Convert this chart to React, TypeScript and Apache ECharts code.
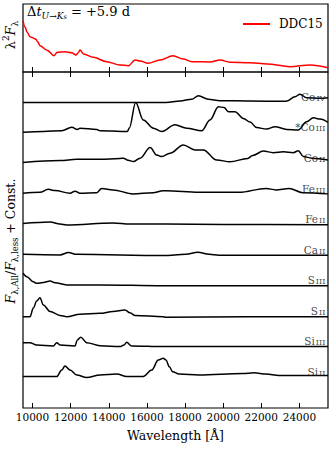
import React, { useEffect, useRef } from "react";
import * as echarts from "echarts";

const SERIF = "'DejaVu Serif', 'Liberation Serif', serif";

const xMin = 9500;
const xMax = 25500;
const xTicks = [10000, 12000, 14000, 16000, 18000, 20000, 22000, 24000];

// top panel: lambda^2 F_lambda (arbitrary units)
const ddc15: [number, number][] = [
  [9500, 0.754], [9600, 0.666], [9720, 0.584], [9870, 0.519], [9990, 0.507], [10080, 0.493],
  [10180, 0.481], [10270, 0.446], [10390, 0.387], [10740, 0.324], [11130, 0.24], [11300, 0.29],
  [11710, 0.299], [12060, 0.284], [12280, 0.25], [12400, 0.284], [12490, 0.324], [12670, 0.265],
  [13190, 0.216], [13890, 0.151], [14590, 0.103], [15030, 0.093], [15380, 0.176], [15640, 0.162],
  [16060, 0.128], [16690, 0.176], [17370, 0.24], [17900, 0.191], [18370, 0.151], [19310, 0.147],
  [19840, 0.176], [20360, 0.143], [21410, 0.137], [22300, 0.118], [23510, 0.078], [24560, 0.103],
  [25500, 0.063],
];

// bottom panel: F_all / F_less + const
const coIV: [number, number][] = [
  [9500, 10.0], [17000, 10.0], [17740, 10.05], [18350, 10.11], [18700, 10.22], [19220, 10.11],
  [19840, 10.06], [21410, 10.05], [23190, 10.04], [23340, 10.05], [23770, 10.19], [24030, 10.27],
  [24380, 10.16], [25080, 10.14], [25500, 10.16],
];
const coIII: [number, number][] = [
  [9500, 9.03], [10570, 9.05], [11530, 9.08], [12060, 9.19], [12350, 9.12], [12490, 9.16],
  [13370, 9.12], [13540, 9.08], [14850, 9.05], [14970, 9.05], [15080, 9.17], [15410, 10.0],
  [15810, 9.43], [16340, 9.16], [16780, 9.05], [17470, 9.27], [18090, 9.16], [18880, 9.08],
  [19310, 9.43], [19750, 9.86], [20050, 9.84], [20270, 9.7], [20620, 9.7], [21060, 9.48],
  [21410, 9.36], [21760, 9.18], [22280, 9.13], [22720, 9.21], [23340, 9.12], [23940, 9.1],
  [24380, 9.37], [24730, 9.5], [25080, 9.46], [25500, 9.35],
];
const coII: [number, number][] = [
  [9500, 8.04], [11440, 8.1], [12320, 8.14], [13540, 8.14], [14590, 8.17], [14760, 8.18],
  [15010, 8.11], [15290, 8.07], [15640, 8.18], [16170, 8.53], [16520, 8.28], [16780, 8.23],
  [17210, 8.34], [17910, 8.61], [18520, 8.45], [18960, 8.45], [19660, 8.12], [20360, 8.06],
  [21290, 8.17], [21550, 8.27], [22110, 8.41], [22630, 8.36], [23160, 8.39], [23680, 8.36],
  [23940, 8.42], [24210, 8.23], [24650, 8.18], [25500, 8.12],
];
const feIII: [number, number][] = [
  [9500, 7.03], [10390, 7.06], [10830, 7.16], [11180, 7.12], [11970, 7.03], [12230, 7.1],
  [12490, 7.03], [13370, 7.05], [13630, 7.19], [14220, 7.14], [15270, 7.01], [16320, 7.05],
  [16850, 7.11], [17000, 7.11], [18730, 7.06], [20830, 7.06], [22250, 7.19], [22770, 7.14],
  [23460, 7.19], [24170, 7.05], [25500, 7.01],
];
const feII: [number, number][] = [
  [9500, 6.04], [10920, 6.09], [11440, 6.02], [11790, 5.99], [14220, 6.06], [15110, 6.02],
  [17000, 6.02], [20000, 6.01], [25500, 6.0],
];
const caII: [number, number][] = [
  [9500, 5.03], [11440, 5.01], [11880, 5.09], [12320, 5.03], [16850, 4.99], [18050, 5.03],
  [18670, 5.1], [19260, 5.03], [19780, 5.0], [25500, 5.0],
];
const sIII: [number, number][] = [
  [9500, 4.41], [9700, 4.3], [10040, 4.13], [10220, 4.08], [10570, 4.11], [10920, 4.16],
  [11180, 4.1], [11790, 4.03], [13540, 4.03], [16850, 4.0], [25500, 4.0],
];
const sII: [number, number][] = [
  [9500, 2.99], [9870, 2.99], [10040, 3.27], [10220, 3.5], [10390, 3.61], [10570, 3.37],
  [10920, 3.16], [11440, 3.03], [11790, 2.99], [12490, 3.07], [13540, 3.1], [14220, 3.16],
  [14850, 3.21], [15110, 3.12], [15380, 3.03], [16850, 2.99], [17000, 2.97], [21200, 2.99],
  [25500, 2.99],
];
const siIII: [number, number][] = [
  [9500, 2.14], [9870, 2.14], [10220, 2.06], [11090, 2.03], [11270, 2.14], [11440, 2.06],
  [12230, 2.03], [12350, 2.23], [12530, 2.32], [12840, 2.14], [13540, 2.04], [14590, 2.01],
  [14800, 2.06], [14940, 2.15], [15200, 2.03], [16850, 2.01], [25500, 2.01],
];
const siII: [number, number][] = [
  [9500, 1.03], [11270, 1.03], [11530, 1.24], [11700, 1.375], [11970, 1.24], [12320, 1.08],
  [12840, 1.0], [13540, 1.08], [14420, 1.11], [14940, 1.03], [15810, 1.03], [16250, 1.24],
  [16600, 1.57], [16860, 1.63], [17000, 1.57], [17180, 1.35], [17350, 1.19], [17690, 1.11],
  [18730, 1.08], [21030, 1.13], [21620, 1.15], [22250, 1.11], [22930, 1.06], [25500, 1.06],
];

const traceNames = ["Co IV", "*Co III", "Co II", "Fe III", "Fe II", "Ca II", "S III", "S II", "Si III", "Si II"];
const traceOffsets = [10, 9, 8, 7, 6, 5, 4, 3, 2, 1];
const traces = [coIV, coIII, coII, feIII, feII, caII, sIII, sII, siIII, siII];

const labelX = 25360;
const labelLift = 0.2;

export default function App() {
  const ref = useRef<HTMLDivElement>(null);
  useEffect(() => {
    if (!ref.current) return;
    const chart = echarts.init(ref.current, null, { renderer: "svg" });

    const tickStyle = { color: "#000", width: 1 };
    const baseX = {
      type: "value",
      min: xMin,
      max: xMax,
      splitLine: { show: false },
      axisLine: { show: false },
      axisTick: { show: true, inside: true, length: 5, customValues: xTicks, lineStyle: tickStyle },
      axisLabel: { show: false },
    };

    const blackSeries = traces.map((d, i) => ({
      type: "line",
      name: traceNames[i],
      xAxisIndex: 1,
      yAxisIndex: 1,
      data: d,
      showSymbol: false,
      symbol: "none",
      smooth: 0.35,
      smoothMonotone: "x",
      lineStyle: { color: "#000", width: 1.5 },
      z: 2,
    }));

    const labelSeries = {
      type: "scatter",
      xAxisIndex: 1,
      yAxisIndex: 1,
      symbolSize: 0,
      silent: true,
      z: 5,
      data: traceNames.map((n, i) => ({ name: n, value: [labelX, traceOffsets[i] + labelLift] })),
      label: {
        show: true,
        position: "left",
        distance: 0,
        formatter: (p: any) => {
          const parts = String(p.name).split(" ");
          return `{e|${parts[0]}}{g| }{r|${parts[1]}}`;
        },
        rich: {
          e: { fontFamily: SERIF, fontSize: 10.5, color: "#111", lineHeight: 12, verticalAlign: "bottom" },
          g: { fontFamily: SERIF, fontSize: 3, lineHeight: 12 },
          r: { fontFamily: SERIF, fontSize: 8, color: "#111", lineHeight: 10, verticalAlign: "bottom" },
        },
      },
    };

    const option: any = {
      animation: false,
      grid: [
        { left: 23, right: 4, top: 4, height: 68, show: true, borderColor: "#000", borderWidth: 1.2 },
        { left: 23, right: 4, top: 72, height: 336, show: true, borderColor: "#000", borderWidth: 1.2 },
      ],
      xAxis: [
        { ...baseX, gridIndex: 0, position: "bottom" },
        {
          ...baseX,
          gridIndex: 1,
          position: "bottom",
          axisLabel: {
            show: true,
            customValues: xTicks,
            fontFamily: SERIF,
            fontSize: 10.5,
            color: "#000",
            margin: 3,
            formatter: (v: number) => String(v),
          },
          name: "Wavelength [Å]",
          nameLocation: "middle",
          nameGap: 21,
          nameTextStyle: { fontFamily: SERIF, fontSize: 12.5, color: "#000" },
        },
        { ...baseX, gridIndex: 1, position: "top" },
      ],
      yAxis: [
        { type: "value", gridIndex: 0, min: 0, max: 1, show: false },
        { type: "value", gridIndex: 1, min: 0, max: 11, show: false },
      ],
      legend: {
        data: ["DDC15"],
        left: 238,
        top: 13,
        icon: "rect",
        itemWidth: 27,
        itemHeight: 2,
        itemGap: 5,
        textStyle: { fontFamily: SERIF, fontSize: 12, color: "#000", padding: [0, 0, 0, 4] },
      },
      graphic: [
        {
          type: "text",
          left: 27,
          top: 5,
          style: {
            text: "{n|Δ}{i|t}{s|U→K}{ss|s}{n| = +5.9 d}",
            rich: {
              n: { fontFamily: SERIF, fontSize: 13, lineHeight: 17, fill: "#000", verticalAlign: "middle" },
              i: { fontFamily: SERIF, fontSize: 13, fontStyle: "italic", lineHeight: 17, fill: "#000" },
              s: { fontFamily: SERIF, fontSize: 9, fontStyle: "italic", lineHeight: 10, fill: "#000", verticalAlign: "bottom" },
              ss: { fontFamily: SERIF, fontSize: 6.5, fontStyle: "italic", lineHeight: 6, fill: "#000", verticalAlign: "bottom" },
            },
          },
        },
        {
          type: "text",
          x: 10,
          y: 35,
          rotation: Math.PI / 2,
          style: {
            text: "{n|λ}{sup|2}{i|F}{sub|λ}",
            align: "center",
            verticalAlign: "middle",
            rich: {
              n: { fontFamily: SERIF, fontSize: 13, lineHeight: 18, fill: "#000" },
              sup: { fontFamily: SERIF, fontSize: 9, lineHeight: 9, fill: "#000", verticalAlign: "top" },
              i: { fontFamily: SERIF, fontSize: 13, fontStyle: "italic", lineHeight: 18, fill: "#000" },
              sub: { fontFamily: SERIF, fontSize: 9, lineHeight: 9, fill: "#000", verticalAlign: "bottom" },
            },
          },
        },
        {
          type: "text",
          x: 10,
          y: 241,
          rotation: Math.PI / 2,
          style: {
            text: "{i|F}{sub|λ,All}{n|/}{i|F}{sub|λ,less}{n| + Const.}",
            align: "center",
            verticalAlign: "middle",
            rich: {
              n: { fontFamily: SERIF, fontSize: 12.5, lineHeight: 18, fill: "#000" },
              i: { fontFamily: SERIF, fontSize: 12.5, fontStyle: "italic", lineHeight: 18, fill: "#000" },
              sub: { fontFamily: SERIF, fontSize: 8.5, lineHeight: 9, fill: "#000", verticalAlign: "bottom" },
            },
          },
        },
      ],
      series: [
        {
          type: "line",
          name: "DDC15",
          xAxisIndex: 0,
          yAxisIndex: 0,
          data: ddc15,
          showSymbol: false,
          symbol: "none",
          smooth: 0.35,
          smoothMonotone: "x",
          lineStyle: { color: "#f00", width: 1.5 },
          itemStyle: { color: "#f00" },
        },
        ...blackSeries,
        labelSeries,
      ],
    };
    chart.setOption(option);
    return () => chart.dispose();
  }, []);
  return (
    <div
      ref={ref}
      style={{ position: "fixed", left: 0, top: 0, width: 332, height: 450, background: "#fff" }}
    />
  );
}
